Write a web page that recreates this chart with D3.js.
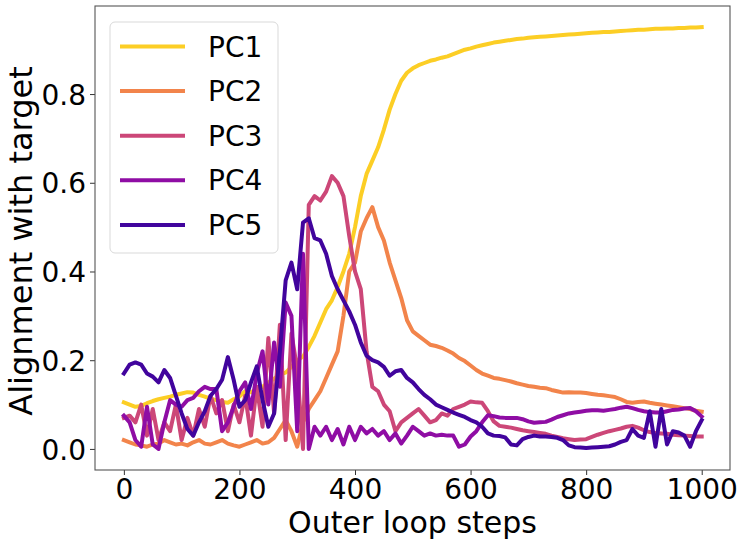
<!DOCTYPE html>
<html>
<head>
<meta charset="utf-8">
<script src="https://cdn.jsdelivr.net/npm/d3@7"></script>
<style>
  body { margin: 0; background: #fff; }
  svg text { font-family: "DejaVu Sans", sans-serif; fill: #000; }
</style>
</head>
<body>
<div id="container"></div>
<script>
// outer loop step of each sample (every 10 steps)
const steps = d3.range(0, 1001, 10)

const seriesNames = ["PC1", "PC2", "PC3", "PC4", "PC5"]
const seriesColors = ["#fcce25", "#f2844b", "#cc4778", "#8f0da4", "#41049d"]

const pc1 = [
    0.105, 0.100, 0.095, 0.097, 0.103, 0.108, 0.112, 0.115, 0.118, 0.122,
    0.125, 0.128, 0.127, 0.122, 0.118, 0.113, 0.110, 0.106, 0.104, 0.112,
    0.118, 0.130, 0.128, 0.135, 0.140, 0.150, 0.158, 0.168, 0.172, 0.185,
    0.200, 0.208, 0.230, 0.255, 0.285, 0.315, 0.335, 0.365, 0.400, 0.440,
    0.500, 0.570, 0.620, 0.650, 0.680, 0.720, 0.765, 0.800, 0.830, 0.848,
    0.858, 0.865, 0.870, 0.875, 0.878, 0.882, 0.885, 0.890, 0.895, 0.900,
    0.903, 0.907, 0.910, 0.913, 0.916, 0.918, 0.920, 0.922, 0.924, 0.925,
    0.927, 0.928, 0.929, 0.930, 0.931, 0.932, 0.933, 0.934, 0.935, 0.936,
    0.937, 0.938, 0.939, 0.940, 0.940, 0.941, 0.942, 0.943, 0.944, 0.945,
    0.945, 0.946, 0.947, 0.947, 0.948, 0.948, 0.949, 0.949, 0.950, 0.950,
    0.951
]
const pc2 = [
    0.020, 0.015, 0.010, 0.008, 0.005, 0.010, 0.012, 0.020, 0.015, 0.010,
    0.012, 0.008, 0.015, 0.020, 0.012, 0.010, 0.015, 0.020, 0.012, 0.008,
    0.005, 0.010, 0.015, 0.020, 0.012, 0.015, 0.025, 0.045, 0.065, 0.040,
    0.005, 0.060, 0.090, 0.110, 0.130, 0.160, 0.190, 0.220, 0.300, 0.400,
    0.420, 0.490, 0.520, 0.545, 0.500, 0.470, 0.420, 0.380, 0.340, 0.290,
    0.265, 0.255, 0.245, 0.235, 0.232, 0.228, 0.222, 0.215, 0.205, 0.198,
    0.188, 0.178, 0.170, 0.165, 0.160, 0.158, 0.155, 0.152, 0.148, 0.145,
    0.142, 0.140, 0.138, 0.137, 0.133, 0.130, 0.127, 0.128, 0.127, 0.127,
    0.126, 0.124, 0.122, 0.121, 0.119, 0.117, 0.112, 0.106, 0.104, 0.106,
    0.107, 0.104, 0.102, 0.100, 0.098, 0.096, 0.094, 0.092, 0.090, 0.086,
    0.084
]
const pc3 = [
    0.070, 0.075, 0.060, 0.100, 0.030, 0.090, 0.020, 0.060, 0.040, 0.100,
    0.020, 0.070, 0.030, 0.090, 0.050, 0.120, 0.080, 0.110, 0.040, 0.100,
    0.060, 0.120, 0.030, 0.140, 0.050, 0.250, 0.080, 0.280, 0.020, 0.260,
    0.180, 0.000, 0.550, 0.570, 0.560, 0.580, 0.615, 0.600, 0.570, 0.480,
    0.400, 0.360, 0.220, 0.140, 0.130, 0.100, 0.085, 0.040, 0.060, 0.070,
    0.080, 0.090, 0.075, 0.060, 0.065, 0.080, 0.075, 0.090, 0.095, 0.100,
    0.107, 0.105, 0.104, 0.085, 0.062, 0.052, 0.050, 0.048, 0.045, 0.042,
    0.040, 0.038, 0.036, 0.034, 0.030, 0.027, 0.024, 0.022, 0.020, 0.021,
    0.022, 0.027, 0.032, 0.036, 0.040, 0.043, 0.046, 0.050, 0.052, 0.048,
    0.042, 0.038, 0.036, 0.035, 0.034, 0.032, 0.031, 0.030, 0.029, 0.028,
    0.028
]
const pc4 = [
    0.075, 0.060, 0.020, 0.005, 0.095, 0.010, 0.000, 0.060, 0.110, 0.100,
    0.095, 0.110, 0.115, 0.130, 0.140, 0.135, 0.135, 0.040, 0.060, 0.095,
    0.130, 0.150, 0.090, 0.170, 0.220, 0.100, 0.240, 0.140, 0.330, 0.300,
    0.040, 0.440, 0.000, 0.050, 0.030, 0.050, 0.020, 0.045, 0.010, 0.050,
    0.020, 0.050, 0.035, 0.045, 0.030, 0.040, 0.020, 0.035, 0.012, 0.030,
    0.050, 0.040, 0.030, 0.035, 0.030, 0.032, 0.030, 0.030, 0.005, 0.010,
    0.028, 0.040, 0.060, 0.076, 0.074, 0.071, 0.070, 0.070, 0.070, 0.067,
    0.062, 0.059, 0.060, 0.061, 0.066, 0.072, 0.076, 0.080, 0.082, 0.084,
    0.086, 0.087, 0.087, 0.086, 0.088, 0.090, 0.093, 0.095, 0.092, 0.088,
    0.085, 0.083, 0.082, 0.082, 0.085, 0.088, 0.089, 0.091, 0.092, 0.085,
    0.073
]
const pc5 = [
    0.170, 0.190, 0.195, 0.190, 0.170, 0.163, 0.150, 0.178, 0.160, 0.120,
    0.080, 0.045, 0.030, 0.060, 0.085, 0.120, 0.135, 0.156, 0.207, 0.156,
    0.095, 0.110, 0.150, 0.186, 0.110, 0.050, 0.080, 0.220, 0.380, 0.420,
    0.360, 0.510, 0.520, 0.475, 0.470, 0.440, 0.390, 0.360, 0.335, 0.310,
    0.280, 0.240, 0.210, 0.200, 0.195, 0.185, 0.165, 0.175, 0.178, 0.160,
    0.150, 0.135, 0.122, 0.112, 0.100, 0.094, 0.088, 0.082, 0.077, 0.072,
    0.065, 0.060, 0.050, 0.035, 0.030, 0.029, 0.026, 0.010, 0.008, 0.022,
    0.027, 0.030, 0.028, 0.028, 0.027, 0.025, 0.020, 0.008, 0.004, 0.003,
    0.002, 0.003, 0.004, 0.005, 0.006, 0.010, 0.016, 0.020, 0.045, 0.030,
    0.025, 0.085, 0.005, 0.090, 0.010, 0.040, 0.037, 0.030, 0.005, 0.040,
    0.065
]

const xTicks = [0, 200, 400, 600, 800, 1000]
const yTicks = [0.0, 0.2, 0.4, 0.6, 0.8]

const chart = function () {

    const plot = { left: 95, right: 730, top: 6, bottom: 470 }
    const fontSize = 28

    const x = d3.scaleLinear().domain([-49.95, 1048.95]).range([plot.left, plot.right])
    const y = d3.scaleLinear().domain([-0.0475, 0.9985]).range([plot.bottom, plot.top])

    function draw(container) {
        const svg = d3.select(container)
            .append("svg")
            .attr("width", 747)
            .attr("height", 547)

        const clip = svg.append("defs").append("clipPath").attr("id", "clip")
        clip.append("rect")
            .attr("x", plot.left).attr("y", plot.top)
            .attr("width", plot.right - plot.left).attr("height", plot.bottom - plot.top)

        const series = [pc1, pc2, pc3, pc4, pc5]
        const line = d3.line()
            .x((d, i) => x(steps[i]))
            .y(d => y(d))

        svg.append("g")
            .attr("clip-path", "url(#clip)")
            .selectAll("path")
            .data(series).enter()
            .append("path")
            .attr("d", line)
            .attr("fill", "none")
            .attr("stroke", (d, i) => seriesColors[i])
            .attr("stroke-width", 4)
            .attr("stroke-linejoin", "round")
            .attr("stroke-linecap", "square")

        drawAxes(svg)
        drawLegend(svg)
    }

    function drawAxes(svg) {
        const xAxis = svg.append("g")
            .attr("transform", "translate(0," + plot.bottom + ")")
            .call(d3.axisBottom(x).tickValues(xTicks).tickSize(5).tickPadding(4).tickFormat(d3.format("d")))
        const yAxis = svg.append("g")
            .attr("transform", "translate(" + plot.left + ",0)")
            .call(d3.axisLeft(y).tickValues(yTicks).tickSize(5).tickPadding(4).tickFormat(d3.format(".1f")))

        for (const ax of [xAxis, yAxis]) {
            ax.select(".domain").remove()
            ax.selectAll(".tick line").attr("stroke", "#333").attr("stroke-width", 1)
            ax.selectAll(".tick text")
                .attr("font-size", fontSize)
                .attr("font-family", "DejaVu Sans")
                .attr("fill", "#000")
        }
        yAxis.selectAll(".tick text").attr("dy", "0.36em")

        svg.append("rect")
            .attr("x", plot.left).attr("y", plot.top)
            .attr("width", plot.right - plot.left).attr("height", plot.bottom - plot.top)
            .attr("fill", "none")
            .attr("stroke", "#555")
            .attr("stroke-width", 1.1)

        svg.append("text")
            .attr("x", (plot.left + plot.right) / 2)
            .attr("y", 533)
            .attr("text-anchor", "middle")
            .attr("font-size", 30)
            .text("Outer loop steps")

        svg.append("text")
            .attr("transform", "translate(32,241) rotate(-90)")
            .attr("text-anchor", "middle")
            .attr("font-size", 32)
            .text("Alignment with target")
    }

    function drawLegend(svg) {
        const legend = svg.append("g")
        legend.append("rect")
            .attr("x", 110).attr("y", 22)
            .attr("width", 168).attr("height", 231)
            .attr("rx", 5)
            .attr("fill", "#fff").attr("fill-opacity", 0.8)
            .attr("stroke", "#d9d9d9").attr("stroke-width", 1)

        const rows = legend.selectAll(".row")
            .data(seriesNames).enter()
            .append("g")
            .attr("transform", (d, i) => "translate(0," + (46.5 + i * 44.6) + ")")

        rows.append("line")
            .attr("x1", 120).attr("x2", 185)
            .attr("stroke", (d, i) => seriesColors[i])
            .attr("stroke-width", 4)

        rows.append("text")
            .attr("x", 208)
            .attr("y", 10)
            .attr("font-size", fontSize)
            .text(d => d)
    }

    return { draw }
}()

chart.draw("#container")
</script>
</body>
</html>
